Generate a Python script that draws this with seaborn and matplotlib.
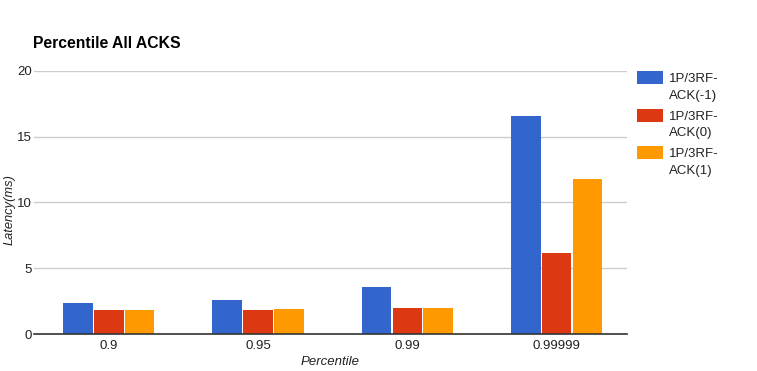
import matplotlib
matplotlib.use("Agg")
import matplotlib.pyplot as plt
import matplotlib.patches as mpatches
import seaborn as sns
import pandas as pd

categories = ["0.9", "0.95", "0.99", "0.99999"]
series = ["1P/3RF-ACK(-1)", "1P/3RF-ACK(0)", "1P/3RF-ACK(1)"]
ack_m1 = [2.36, 2.59, 3.58, 16.55]
ack_0 = [1.83, 1.83, 1.98, 6.12]
ack_1 = [1.83, 1.90, 1.98, 11.78]
colors = ["#3366CC", "#DC3912", "#FF9900"]
legend_lines = [("1P/3RF-", "ACK(-1)"), ("1P/3RF-", "ACK(0)"), ("1P/3RF-", "ACK(1)")]

rows = []
for s, vals in zip(series, [ack_m1, ack_0, ack_1]):
    for c, v in zip(categories, vals):
        rows.append({"Percentile": c, "Series": s, "Latency": v})
df = pd.DataFrame(rows)

sns.set_theme(style="white")
plt.rcParams["font.family"] = ["Liberation Sans", "DejaVu Sans"]

W, H = 757, 371
fig = plt.figure(figsize=(7.57, 3.71), dpi=100)
ax = fig.add_axes([0.045, 0.0997, 0.783, 0.7093])

sns.barplot(data=df, x="Percentile", y="Latency", hue="Series",
            order=categories, hue_order=series, palette=colors,
            width=0.62, gap=0.04, saturation=1, legend=False, ax=ax,
            edgecolor="none", errorbar=None)

ax.set_xlim(-0.5, 3.47)
ax.set_ylim(0, 20)
ax.set_yticks([0, 5, 10, 15, 20])
ax.yaxis.grid(True, color="#CCCCCC", linewidth=1)
ax.set_axisbelow(True)
for sp in ["top", "right", "left"]:
    ax.spines[sp].set_visible(False)
ax.spines["bottom"].set_color("#333333")
ax.spines["bottom"].set_linewidth(1.2)
ax.tick_params(axis="both", length=0, labelsize=9.5, colors="#222222", pad=4)
ax.tick_params(axis="y", pad=1.5)
ax.set_xlabel("Percentile", fontsize=9.5, fontstyle="italic", color="#222222", labelpad=3)
ax.set_ylabel("Latency(ms)", fontsize=9.3, fontstyle="italic", color="#222222")
ax.yaxis.set_label_coords(9.5 / W, 1 - 210 / H, transform=fig.transFigure)
ax.yaxis.label.set_verticalalignment("center")

fig.text(33 / W, 1 - 44 / H, "Percentile All ACKS", fontsize=11.3,
         fontweight="bold", color="#000000", va="center", ha="left")

# legend
for i, (col, (l1, l2)) in enumerate(zip(colors, legend_lines)):
    top = 71 + i * 37.5
    fig.patches.append(mpatches.Rectangle((637 / W, 1 - (top + 13) / H), 26 / W, 13 / H,
                                          transform=fig.transFigure, facecolor=col,
                                          edgecolor="none"))
    fig.text(669 / W, 1 - (top + 8) / H, l1, fontsize=9.5, color="#222222",
             va="center", ha="left")
    fig.text(669 / W, 1 - (top + 24.5) / H, l2, fontsize=9.5, color="#222222",
             va="center", ha="left")

fig.savefig("out.png", dpi=100)
